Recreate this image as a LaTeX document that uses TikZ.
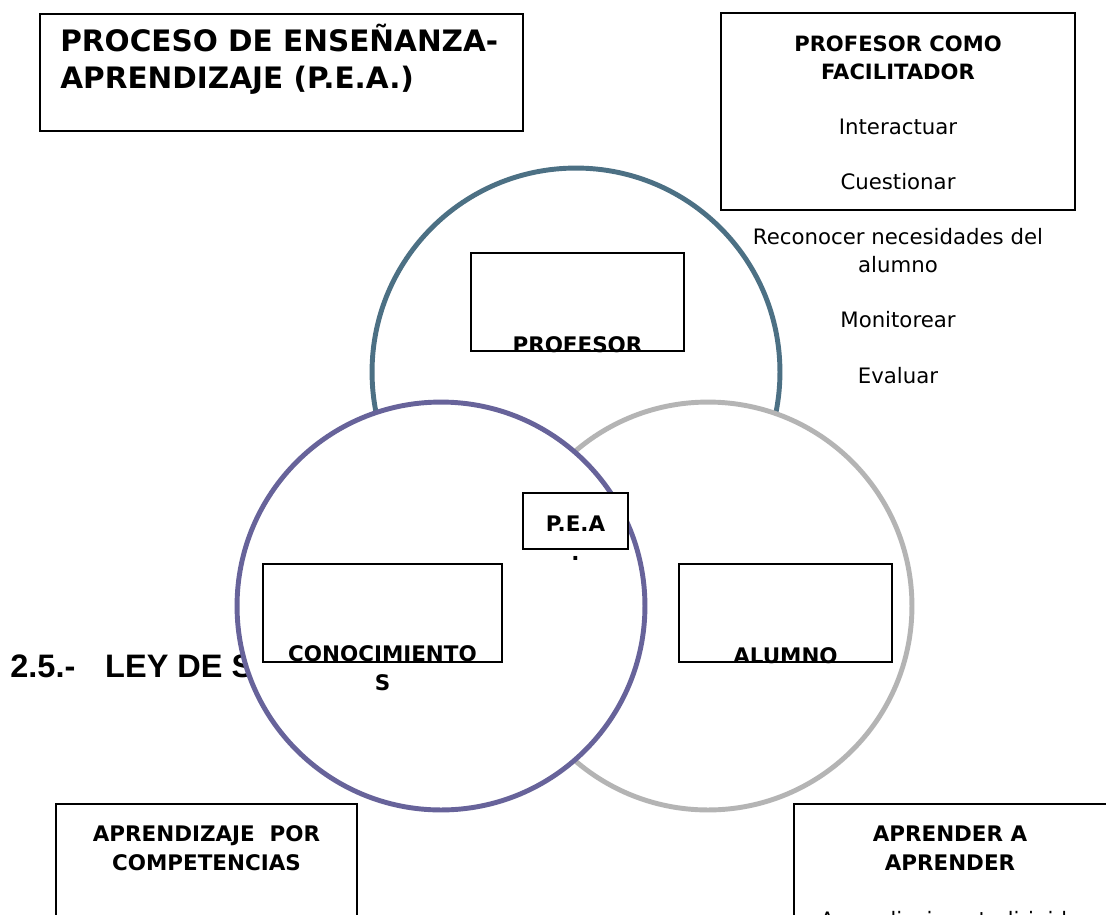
\documentclass[tikz,border=0pt]{standalone}
\usepackage{fontspec}
\setmainfont{DejaVu Sans}
\newfontfamily\leyfont{Liberation Sans}
\usetikzlibrary{positioning}
\definecolor{profcol}{RGB}{76,112,132}
\definecolor{conocol}{RGB}{103,99,154}
\definecolor{alumcol}{RGB}{180,180,180}
\newcommand{\headtxt}[1]{{\fontsize{12}{15.9}\selectfont\bfseries #1}}

\begin{document}
\begin{tikzpicture}[x=0.02cm,y=-0.02cm,
  box/.style={draw,line width=1.4pt,fill=white,inner sep=0pt},
  ring/.style={circle,line width=2.8pt,fill=white,minimum size=8.16cm,inner sep=0pt},
  tag/.style={font=\fontsize{12.2}{16.2}\selectfont\bfseries,align=center,inner sep=0pt,anchor=base},
  plain/.style={font=\fontsize{12.1}{15.9}\selectfont,align=center,inner sep=0pt}]
  \clip (0,0) rectangle (1106,914);
  \fill[white] (0,0) rectangle (1106,914);

  % title
  \node[box,minimum width=9.66cm,minimum height=2.34cm] (titlebox) at (281.5,72.5) {};
  \node[font=\fontsize{16.8}{20.8}\selectfont\bfseries,align=left,anchor=base west,inner sep=0pt] (title) at (60,88) {PROCESO DE ENSEÑANZA-\\APRENDIZAJE (P.E.A.)};

  % profesor como facilitador
  \node[box,minimum width=7.08cm,minimum height=3.94cm] (facbox) at (898,111.5) {};
  \node[plain,anchor=base] (factext) at (898,383) {\headtxt{PROFESOR COMO}\\\headtxt{FACILITADOR}\\[15.5pt]
    Interactuar\\[15.5pt] Cuestionar\\[15.5pt] Reconocer necesidades del\\alumno\\[15.5pt] Monitorear\\[15.5pt] Evaluar};

  \node[font=\leyfont\bfseries\fontsize{18.5}{22}\selectfont,anchor=base west,inner sep=0pt] (ley) at (10,677) {2.5.-\hspace{17pt}LEY DE S};

  % venn
  \node[ring,draw=profcol] (profesor) at (576,372) {};
  \node[ring,draw=alumcol] (alumno) at (708,606) {};
  \node[ring,draw=conocol] (conocimientos) at (441,606) {};

  \node[box,minimum width=4.26cm,minimum height=1.96cm] (profbox) at (577.5,302) {};
  \node[tag] (proflabel) at (profbox.south) {PROFESOR};
  \node[box,minimum width=2.1cm,minimum height=1.12cm] (peabox) at (575.5,521) {};
  \node[tag] (pealabel) at (575.5,560) {P.E.A\\.};
  \node[box,minimum width=4.78cm,minimum height=1.96cm] (conobox) at (382.5,613) {};
  \node[tag] (conolabel) at (382.5,690) {CONOCIMIENTO\\S};
  \node[box,minimum width=4.26cm,minimum height=1.96cm] (alumbox) at (785.5,613) {};
  \node[tag] (alumlabel) at (alumbox.south) {ALUMNO};

  % bottom boxes
  \node[box,minimum width=6.02cm,minimum height=3.12cm] (compbox) at (206.5,882) {};
  \node[tag] (complabel) at (206.5,870) {APRENDIZAJE~~POR\\COMPETENCIAS};
  \node[box,minimum width=6.42cm,minimum height=3.12cm] (aprbox) at (954.5,882) {};
  \node[tag] (aprlabel) at (950,870) {APRENDER A\\APRENDER};
  \node[plain,anchor=base] (aprtext) at (950,927) {Aprendizaje autodirigido};
\end{tikzpicture}
\end{document}
